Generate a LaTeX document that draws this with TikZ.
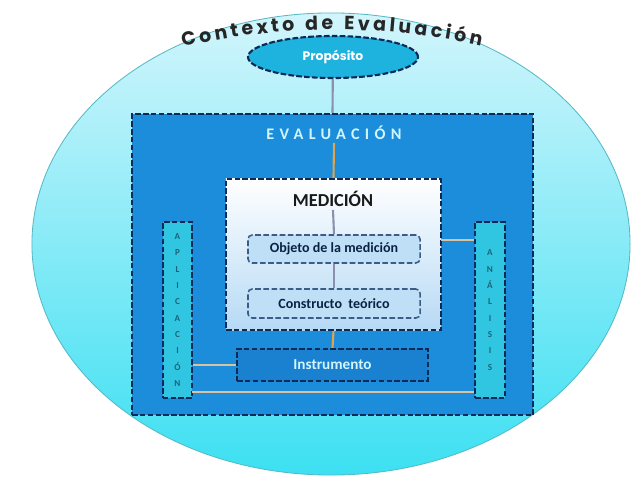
\documentclass[tikz,border=0pt]{standalone}
\usepackage{fontspec}
\setmainfont{Carlito}
\newfontfamily\gothic{Poppins}
\newfontfamily\spaced[LetterSpace=33]{Carlito}
\usetikzlibrary{positioning, shapes.geometric}
\usetikzlibrary{decorations.text, backgrounds}

\definecolor{navy}{HTML}{0B2A55}
\definecolor{evalblue}{HTML}{1B8DDB}
\definecolor{instblue}{HTML}{1A80D0}
\definecolor{propcyan}{HTML}{1EB2DE}
\definecolor{barcyan}{HTML}{30C6E2}
\definecolor{ctxtop}{HTML}{D2F5FC}
\definecolor{ctxbot}{HTML}{3CE0F2}
\definecolor{medbot}{HTML}{B6DAF5}
\definecolor{subfill}{HTML}{BFDFF7}
\definecolor{subline}{HTML}{3A5C86}
\definecolor{tanline}{HTML}{D8C2A0}
\definecolor{grayline}{HTML}{8A90AE}
\definecolor{orangeline}{HTML}{E0A450}
\definecolor{barletter}{HTML}{1B6478}

\begin{document}
\begin{tikzpicture}[x=0.025cm, y=0.025cm]

\tikzstyle{box_style} = [draw=navy, line width=1.5pt, dash pattern=on 4pt off 1.6pt, inner sep=0pt]

\tikzstyle{sub_style} = [draw=subline, line width=1.1pt, dash pattern=on 4pt off 1.8pt, rounded corners=3pt, fill=subfill, inner sep=0pt, minimum width=4.3cm, font=\bfseries\fontsize{10}{12}\selectfont, text=navy!80!black]

\tikzstyle{bar_style} = [box_style, fill=barcyan, minimum width=0.74cm, minimum height=4.4cm, align=center, text=barletter, font=\bfseries\fontsize{6.5}{11.6}\selectfont]

\tikzstyle{edge_style} = [draw=tanline, line width=1.5pt]

\tikzstyle{edge_style2} = [draw=grayline, line width=1.5pt]

\useasboundingbox (0,0) rectangle (640,-479);

% contexto
\node[ellipse, draw=ctxbot!60!gray, line width=0.6pt, top color=ctxtop, bottom color=ctxbot, minimum width=14.95cm, minimum height=11.55cm, inner sep=0pt] (ctx) at (331,-244) {};

\path[decorate, decoration={text along path, text align=fit to path, text={|\gothic\bfseries\fontsize{13.5}{13.5}\selectfont\color{black!85}|Contexto de Evaluación}}] (183,-47) .. controls (282,-24) and (381,-24) .. (481,-46);

\node[ellipse, box_style, fill=propcyan, minimum width=4.25cm, minimum height=1.05cm, text=white, font=\gothic\bfseries\fontsize{8.8}{10}\selectfont] (prop) at (333,-57) {Propósito};

% evaluacion
\node[box_style, fill=evalblue, minimum width=10.025cm, minimum height=7.525cm] (eval) at (332.5,-264.5) {};
\node[text=ctxtop, font=\spaced\bfseries\fontsize{11.5}{12}\selectfont, inner sep=2pt] (evaltitle) at (334,-133) {EVALUACIÓN};

% medicion
\node[box_style, top color=white, bottom color=medbot, minimum width=5.375cm, minimum height=3.775cm] (med) at (333.5,-254.5) {};
\node[font=\bfseries\fontsize{13}{14}\selectfont, text=black!90, inner sep=2pt] (medtitle) at (333,-199) {MEDICIÓN};

\node[sub_style, minimum height=0.7cm] (obj) at (334,-249) {Objeto de la medición};
\node[sub_style, minimum height=0.725cm] (cons) at (334,-303.5) {Constructo\ \ teórico};

\node[box_style, fill=instblue, minimum width=4.775cm, minimum height=0.8cm, text=ctxtop, font=\bfseries\fontsize{10.8}{12}\selectfont] (inst) at (332.5,-365) {Instrumento};

\node[bar_style] (apl) at (177.5,-310) {A\\P\\L\\I\\C\\A\\C\\I\\Ó\\N};
\node[bar_style] (ana) at (490,-310) {A\\N\\Á\\L\\I\\S\\I\\S};

\coordinate (med_r) at (441,-240);
\coordinate (apl_b) at (192,-392);

\draw[edge_style2]  (prop) edge (eval.north);
\draw[draw=orangeline, line width=1.5pt]  (evaltitle.south) edge (med.north);
\draw[edge_style2]  (medtitle.south) edge (obj.north);
\draw[edge_style2]  (obj) edge (cons);
\draw[draw=orangeline, line width=1.5pt]  (med.south) edge (inst.north);
\draw[edge_style]  (med_r) edge (med_r -| ana.west);
\draw[edge_style]  (inst.west) edge (inst.west -| apl.east);
\draw[edge_style]  (apl_b) edge (apl_b -| ana.west);

\end{tikzpicture}
\end{document}
